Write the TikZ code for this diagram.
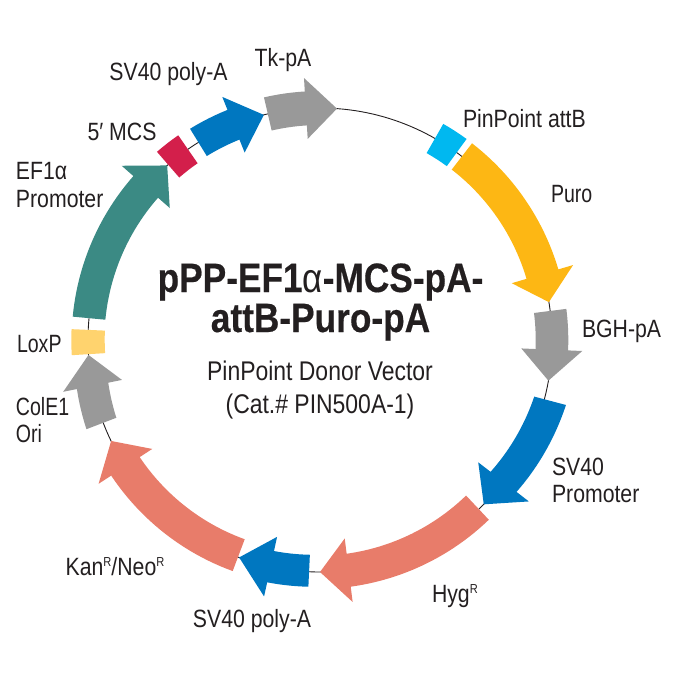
\documentclass[tikz,border=0pt]{standalone}
\usepackage{fontspec}
\setmainfont[FakeStretch=0.85]{Liberation Sans}
\newfontfamily\titlefont[FakeStretch=0.86,FakeBold=0.4]{Liberation Sans Bold}
\newfontfamily\alphafont[FakeStretch=0.85]{Liberation Sans}
\definecolor{ink}{HTML}{231F20}
\definecolor{tealc}{HTML}{3B8A84}
\definecolor{redc}{HTML}{D31F4B}
\definecolor{bluec}{HTML}{0077C0}
\definecolor{greyc}{HTML}{999999}
\definecolor{cyanc}{HTML}{00B8F0}
\definecolor{yelc}{HTML}{FDB714}
\definecolor{salc}{HTML}{E87C6A}
\definecolor{loxc}{HTML}{FFD36E}
\tikzset{
  lab/.style={text=ink,inner sep=0pt,outer sep=0pt,font=\fontsize{25}{27.5}\selectfont},
  narrowlab/.style={lab,xscale=0.92,transform shape},
  sublab/.style={text=ink,inner sep=0pt,outer sep=0pt,font=\fontsize{27}{29}\selectfont},
  ttl/.style={text=ink,inner sep=0pt,outer sep=0pt,font=\titlefont\fontsize{41}{43}\selectfont},
}
\newcommand{\supR}{\raisebox{9pt}{\fontsize{13}{13}\selectfont R}}
% colour, tail angle, tail radius, half width, head angle, head half width, tip angle
\newcommand{\feat}[7]{%
  \fill[#1] plot[domain=#2:#5,samples=25] (\x:{#3+(232-#3)*(\x-(#2))/((#5)-(#2))+#4})
    -- (#5:{232+#6}) -- (#7:232) -- (#5:{232-#6})
    -- plot[domain=#5:#2,samples=25] (\x:{#3+(232-#3)*(\x-(#2))/((#5)-(#2))-#4}) -- cycle;}
% colour, centre angle, half angle, half radial
\newcommand{\site}[4]{%
  \fill[#1] plot[domain={#2-#3}:{#2+#3},samples=5] (\x:{232+#4})
    -- plot[domain={#2+#3}:{#2-#3},samples=5] (\x:{232-#4}) -- cycle;}
\begin{document}
\begin{tikzpicture}[x=1pt,y=1pt]
\useasboundingbox (0,0) rectangle (675,-675);
\begin{scope}[shift={(320,-340)}]
\draw[ink,line width=0.9pt] (0,0) circle (232);
\feat{greyc}{103}{232}{17}{93.5}{30.5}{85.8}
\feat{bluec}{121.6}{232}{16}{111.9}{30}{104}
\site{redc}{127.8}{3.1}{17}
\feat{tealc}{174.6}{232}{16.4}{138.7}{32}{131.2}
\site{loxc}{180.5}{3}{16.7}
\feat{greyc}{200.9}{234}{16}{191.4}{30}{183.7}
\feat{salc}{249.3}{230}{17}{213}{32}{205.8}
\feat{bluec}{267.3}{231}{16}{257.7}{30.5}{249.6}
\feat{salc}{313.2}{230}{16.6}{277.1}{32}{270}
\feat{bluec}{345.2}{238}{16.4}{322.3}{32}{314.9}
\feat{greyc}{7.2}{232}{16.3}{-2.4}{30.5}{-10.1}
\feat{yelc}{52.3}{232}{16.6}{16.5}{32}{9.4}
\site{cyanc}{57.1}{3.2}{16.8}
\end{scope}
\node[lab,anchor=base] (tk) at (283,-66) {Tk-pA};
\node[lab,anchor=base] (sva) at (168.5,-80) {SV40 poly-A};
\node[lab,anchor=base] (mcs) at (122,-140) {5′ MCS};
\node[lab,anchor=base west] (ef1) at (16,-179) {EF1α};
\node[lab,anchor=base west] (efp) at (16,-207) {Promoter};
\node[lab,anchor=base west] (attb) at (463,-127) {PinPoint attB};
\node[narrowlab,anchor=base west] (puro) at (551,-202) {Puro};
\node[lab,anchor=base west] (bgh) at (582,-337) {BGH-pA};
\node[lab,anchor=base west] (sv1) at (552,-475) {SV40};
\node[lab,anchor=base west] (sv2) at (552,-502) {Promoter};
\node[lab,anchor=base west] (hyg) at (432,-602) {Hyg\supR};
\node[lab,anchor=base] (svb) at (252,-627) {SV40 poly-A};
\node[lab,anchor=base] (kan) at (115,-575) {Kan\supR/Neo\supR};
\node[narrowlab,anchor=base west] (col) at (16,-415) {ColE1};
\node[narrowlab,anchor=base west] (ori) at (16,-442) {Ori};
\node[narrowlab,anchor=base west] (lox) at (17,-352) {LoxP};
\node[ttl,anchor=base] (t1) at (320.5,-292) {pPP-EF1{\alphafont α}-MCS-pA-};
\node[ttl,anchor=base] (t2) at (320.5,-332) {attB-Puro-pA};
\node[sublab,anchor=base] (s1) at (320,-380) {PinPoint Donor Vector};
\node[sublab,anchor=base] (s2) at (320,-413) {(Cat.\# PIN500A-1)};
\end{tikzpicture}
\end{document}
